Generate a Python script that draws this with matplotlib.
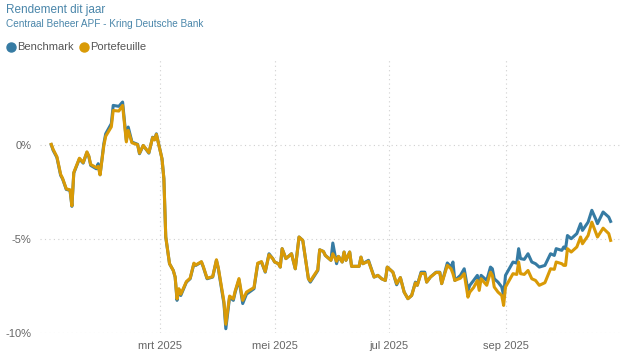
import matplotlib
matplotlib.use('Agg')
import matplotlib.pyplot as plt
import pandas as pd

# rendement dit jaar, in procenten
dates = [
    '2025-01-02', '2025-01-03', '2025-01-05', '2025-01-07', '2025-01-08', '2025-01-10',
    '2025-01-12', '2025-01-13', '2025-01-14', '2025-01-17', '2025-01-19', '2025-01-21',
    '2025-01-22', '2025-01-23', '2025-01-26', '2025-01-27', '2025-01-28', '2025-01-30',
    '2025-01-31', '2025-02-03', '2025-02-04', '2025-02-07', '2025-02-09', '2025-02-11',
    '2025-02-12', '2025-02-14', '2025-02-17', '2025-02-18', '2025-02-20', '2025-02-23',
    '2025-02-25', '2025-02-26', '2025-02-27', '2025-03-02', '2025-03-03', '2025-03-04',
    '2025-03-06', '2025-03-08', '2025-03-09', '2025-03-10', '2025-03-11', '2025-03-12',
    '2025-03-15', '2025-03-17', '2025-03-19', '2025-03-20', '2025-03-23', '2025-03-24',
    '2025-03-26', '2025-03-29', '2025-03-31', '2025-04-01', '2025-04-04', '2025-04-05',
    '2025-04-07', '2025-04-09', '2025-04-10', '2025-04-12', '2025-04-14', '2025-04-16',
    '2025-04-20', '2025-04-22', '2025-04-24', '2025-04-26', '2025-04-28', '2025-04-30',
    '2025-05-01', '2025-05-03', '2025-05-04', '2025-05-05', '2025-05-07', '2025-05-10',
    '2025-05-12', '2025-05-14', '2025-05-16', '2025-05-19', '2025-05-20', '2025-05-24',
    '2025-05-25', '2025-05-27', '2025-05-28', '2025-05-31', '2025-06-01', '2025-06-03',
    '2025-06-04', '2025-06-06', '2025-06-07', '2025-06-08', '2025-06-10', '2025-06-11',
    '2025-06-15', '2025-06-16', '2025-06-17', '2025-06-20', '2025-06-23', '2025-06-25',
    '2025-06-27', '2025-06-29', '2025-06-30', '2025-07-03', '2025-07-05', '2025-07-07',
    '2025-07-09', '2025-07-11', '2025-07-13', '2025-07-15', '2025-07-16', '2025-07-18',
    '2025-07-20', '2025-07-21', '2025-07-23', '2025-07-26', '2025-07-28', '2025-07-29',
    '2025-08-01', '2025-08-03', '2025-08-04', '2025-08-05', '2025-08-08', '2025-08-10',
    '2025-08-12', '2025-08-13', '2025-08-15', '2025-08-17', '2025-08-18', '2025-08-19',
    '2025-08-22', '2025-08-24', '2025-08-25', '2025-08-26', '2025-08-28', '2025-08-30',
    '2025-08-31', '2025-09-01', '2025-09-04', '2025-09-05', '2025-09-07', '2025-09-08',
    '2025-09-09', '2025-09-11', '2025-09-13', '2025-09-15', '2025-09-17', '2025-09-19',
    '2025-09-22', '2025-09-25', '2025-09-27', '2025-09-28', '2025-10-01', '2025-10-02',
    '2025-10-03', '2025-10-04', '2025-10-06', '2025-10-09', '2025-10-11', '2025-10-12',
    '2025-10-15', '2025-10-17', '2025-10-19', '2025-10-20', '2025-10-23', '2025-10-26',
    '2025-10-27',
]

benchmark = [
    0.00, -0.30, -0.68, -1.63, -1.81, -2.38,
    -2.43, -3.28, -1.51, -0.75, -0.98, -0.41,
    -0.62, -1.10, -1.28, -1.01, -1.60, 0.05,
    0.58, 1.12, 2.09, 2.04, 2.27, 0.23,
    0.94, 0.14, 0.02, -0.48, -0.04, -0.45,
    0.40, 0.27, 0.58, -0.75, -1.81, -4.91,
    -6.33, -6.69, -7.04, -8.28, -7.70, -8.02,
    -7.31, -7.13, -6.33, -6.42, -6.24, -6.51,
    -7.13, -7.04, -6.15, -6.60, -8.46, -9.79,
    -8.11, -8.28, -7.84, -7.18, -8.45, -7.95,
    -7.66, -6.33, -6.24, -6.78, -5.80, -6.06,
    -6.24, -6.33, -6.51, -5.53, -6.06, -5.80,
    -6.60, -4.91, -5.09, -7.13, -7.31, -6.69,
    -5.59, -5.68, -5.89, -6.15, -5.23, -6.33,
    -5.94, -6.24, -5.71, -6.15, -5.71, -6.47,
    -6.47, -5.98, -6.33, -6.15, -7.04, -6.95,
    -7.13, -7.22, -6.51, -6.78, -7.45, -7.07,
    -7.84, -8.19, -8.02, -7.31, -7.48, -6.78,
    -6.78, -7.31, -7.04, -6.78, -6.78, -7.39,
    -6.29, -6.51, -6.24, -7.22, -6.95, -6.60,
    -7.75, -7.48, -7.22, -6.95, -7.48, -6.95,
    -7.22, -6.51, -6.60, -7.13, -7.31, -7.57,
    -8.02, -6.95, -6.42, -6.24, -6.30, -5.53,
    -6.06, -6.10, -5.80, -6.24, -6.33, -6.51,
    -6.42, -5.80, -5.89, -5.53, -5.62, -5.44,
    -5.53, -4.83, -5.00, -4.73, -4.20, -4.56,
    -4.12, -3.49, -3.94, -4.20, -3.58, -3.85,
    -4.08,
]

portefeuille = [
    0.02, -0.25, -0.64, -1.58, -1.78, -2.35,
    -2.40, -3.25, -1.48, -0.72, -0.95, -0.38,
    -0.60, -1.05, -1.22, -1.15, -1.60, -0.05,
    0.45, 0.95, 1.82, 1.79, 2.09, 0.15,
    0.76, 0.10, 0.00, -0.45, -0.04, -0.42,
    0.38, 0.25, 0.55, -0.75, -1.81, -4.91,
    -6.33, -6.69, -7.04, -8.20, -7.66, -7.95,
    -7.28, -7.10, -6.30, -6.40, -6.22, -6.48,
    -7.10, -7.02, -6.12, -6.55, -8.35, -9.55,
    -8.05, -8.20, -7.78, -7.12, -8.28, -7.84,
    -7.60, -6.30, -6.22, -6.75, -5.85, -6.06,
    -6.24, -6.33, -6.51, -5.53, -6.06, -5.80,
    -6.60, -4.91, -5.09, -7.13, -7.25, -6.65,
    -5.59, -5.68, -5.89, -6.15, -5.80, -6.20,
    -5.94, -6.24, -5.71, -6.15, -5.71, -6.47,
    -6.47, -5.98, -6.33, -6.20, -7.04, -6.95,
    -7.13, -7.22, -6.51, -6.78, -7.39, -7.07,
    -7.84, -8.19, -8.02, -7.35, -7.48, -6.85,
    -6.85, -7.31, -7.04, -6.80, -6.80, -7.39,
    -6.42, -6.60, -6.86, -7.22, -7.10, -6.86,
    -8.11, -7.84, -7.60, -7.22, -7.75, -7.13,
    -7.48, -6.78, -6.95, -7.57, -7.84, -8.02,
    -8.55, -7.57, -7.04, -6.86, -6.90, -6.24,
    -6.86, -6.90, -6.69, -7.13, -7.22, -7.48,
    -7.34, -6.60, -6.63, -6.24, -6.33, -6.42,
    -6.42, -5.53, -5.71, -5.44, -4.91, -5.27,
    -4.83, -4.12, -4.65, -4.91, -4.44, -4.73,
    -5.09,
]

month_ticks = ['2025-03-01', '2025-05-01', '2025-07-01', '2025-09-01']
month_labels = ['mrt 2025', 'mei 2025', 'jul 2025', 'sep 2025']
y_ticks = [0, -5, -10]

BLUE = '#367ba3'
ORANGE = '#d99a06'
GREY = '#666666'


def main() -> None:
    plt.rcParams['font.family'] = ['Liberation Sans', 'DejaVu Sans']
    x = pd.to_datetime(dates)

    fig = plt.figure(figsize=(6.36, 3.62), dpi=100)
    ax = fig.add_axes([40 / 636, 29.3 / 362, 580 / 636, 272.6 / 362])

    ax.plot(x, benchmark, color=BLUE, lw=2.2, solid_joinstyle='round', zorder=3)
    ax.plot(x, portefeuille, color=ORANGE, lw=2.2, solid_joinstyle='round', zorder=4)

    ax.set_xlim(pd.Timestamp('2024-12-27'), pd.Timestamp('2025-11-01'))
    ax.set_ylim(-10, 4.5)
    ax.set_xticks(pd.to_datetime(month_ticks))
    ax.set_xticklabels(month_labels)
    ax.set_yticks(y_ticks)
    ax.set_yticklabels([f'{v}%' for v in y_ticks])
    ax.tick_params(length=0, labelsize=8, labelcolor=GREY, pad=6)
    ax.tick_params(axis='x', pad=6)
    for s in ax.spines.values():
        s.set_visible(False)
    ax.grid(True, color='#d0d0d0', lw=0.8, ls=(0, (1, 3)))
    ax.set_axisbelow(True)

    fig.text(6 / 636, 1 - 10 / 362, 'Rendement dit jaar', color='#4a86aa',
             fontsize=8.5, va='center', ha='left')
    fig.text(6 / 636, 1 - 24 / 362, 'Centraal Beheer APF - Kring Deutsche Bank',
             color='#4a86aa', fontsize=7.2, va='center', ha='left')

    # legende
    fig.lines.append(plt.Line2D([11 / 636], [1 - 47 / 362], marker='o', ms=6.5,
                                color=BLUE, transform=fig.transFigure, ls=''))
    fig.text(17 / 636, 1 - 47 / 362, 'Benchmark', color='#555555', fontsize=8,
             va='center', ha='left')
    fig.lines.append(plt.Line2D([84 / 636], [1 - 47 / 362], marker='o', ms=6.5,
                                color=ORANGE, transform=fig.transFigure, ls=''))
    fig.text(90 / 636, 1 - 47 / 362, 'Portefeuille', color='#555555', fontsize=8,
             va='center', ha='left')

    fig.savefig('out.png', dpi=100)
    plt.close(fig)


if __name__ == '__main__':
    main()
